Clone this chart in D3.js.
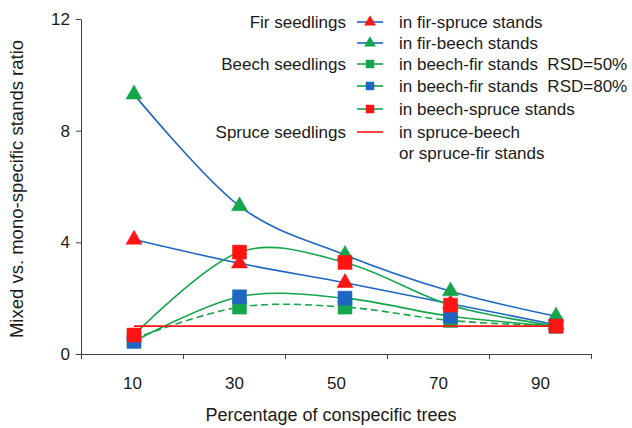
<!DOCTYPE html>
<html>
<head>
<meta charset="utf-8">
<script src="https://cdn.jsdelivr.net/npm/d3@7"></script>
<style>
  body { margin: 0; background: #fff; }
  text { font-family: "Liberation Sans", Arial, sans-serif; fill: #1a1a1a; }
</style>
</head>
<body>
<div id="chart"></div>
<script>
const pct = [10, 30, 50, 70, 90];
const pctLabels = ['10', '30', '50', '70', '90'];
const yTicks = [0, 4, 8, 12];

// fir seedlings
const firSpruce = [4.1, 3.25, 2.55, 1.8, 1.05];
const firBeech = [9.3, 5.3, 3.55, 2.25, 1.35];
// beech seedlings
const beechFir50 = [0.55, 1.68, 1.68, 1.2, 1.0];
const beechFir80 = [0.45, 2.05, 2.0, 1.35, 1.0];
const beechSpruce = [0.68, 3.65, 3.28, 1.75, 1.0];
// spruce seedlings
const spruceAll = [1.0, 1.0, 1.0, 1.0, 1.0];

const BLUE = '#1f66c2', GREEN = '#15a64b', RED = '#ff1414';

const series = [
  {vals: firSpruce, line: BLUE, mark: RED, shape: 'tri', dash: null},
  {vals: firBeech, line: BLUE, mark: GREEN, shape: 'tri', dash: null},
  {vals: beechFir50, line: GREEN, mark: GREEN, shape: 'sq', dash: '7,4'},
  {vals: beechFir80, line: GREEN, mark: BLUE, shape: 'sq', dash: null},
  {vals: beechSpruce, line: GREEN, mark: RED, shape: 'sq', dash: null},
  {vals: spruceAll, line: RED, mark: null, shape: null, dash: null}
];

const legendRows = [
  {group: 'Fir seedlings', text: 'in fir-spruce stands', s: 0},
  {group: '', text: 'in fir-beech stands', s: 1},
  {group: 'Beech seedlings', text: 'in beech-fir stands  RSD=50%', s: 2},
  {group: '', text: 'in beech-fir stands  RSD=80%', s: 3},
  {group: '', text: 'in beech-spruce stands', s: 4},
  {group: 'Spruce seedlings', text: 'in spruce-beech', s: 5},
  {group: '', text: 'or spruce-fir stands', s: -1}
];

const W = 632, H = 428;
const svg = d3.select('#chart').append('svg')
    .attr('width', W).attr('height', H);

const y = d3.scaleLinear().domain([0, 12]).range([354, 19]);
// axis scale: category bands 0-20, 20-40, ...
const xAxisScale = d3.scaleLinear().domain([0, 100]).range([81, 591]);
// the plotted marks sit on a slightly wider grid than the axis labels
const x = d3.scaleLinear().domain([0, 100]).range([81.25, 608.75]);

// y axis
const yAxis = svg.append('g')
    .attr('transform', 'translate(81,0)')
    .call(d3.axisLeft(y).tickValues(yTicks).tickSize(5).tickSizeOuter(0).tickPadding(6));
yAxis.selectAll('text').style('font-size', '17px');

// x axis, boundary ticks
const xAxis = svg.append('g')
    .attr('transform', 'translate(0,354)')
    .call(d3.axisBottom(xAxisScale).tickValues([0, 20, 40, 60, 80, 100])
        .tickFormat('').tickSize(5).tickSizeOuter(0));
// x labels at category centres
const xLab = svg.append('g')
    .attr('transform', 'translate(0,354)')
    .call(d3.axisBottom(xAxisScale).tickValues(pct)
        .tickFormat((d, i) => pctLabels[i]).tickSize(0).tickPadding(23));
xLab.select('.domain').remove();
xLab.selectAll('text').style('font-size', '17px');

svg.selectAll('.domain, .tick line').attr('stroke', '#404040').attr('stroke-width', 1);

// titles
svg.append('text')
    .attr('x', 331).attr('y', 421)
    .attr('text-anchor', 'middle')
    .style('font-size', '18px')
    .text('Percentage of conspecific trees');

svg.append('text')
    .attr('transform', 'translate(23,189) rotate(-90)')
    .attr('text-anchor', 'middle')
    .style('font-size', '18.5px')
    .text('Mixed vs. mono-specific stands ratio');

const line = d3.line()
    .x((d, i) => x(pct[i]))
    .y(d => y(d))
    .curve(d3.curveCardinal);

const tri = d3.symbol().type(d3.symbolTriangle);
const sq = d3.symbol().type(d3.symbolSquare);

series.forEach(s => {
  const g = svg.append('g');
  g.append('path')
      .attr('d', line(s.vals))
      .attr('fill', 'none')
      .attr('stroke', s.line)
      .attr('stroke-width', 1.6)
      .attr('stroke-dasharray', s.dash);
  if (s.shape) {
    g.selectAll('path.m')
        .data(s.vals)
        .enter()
        .append('path')
        .attr('class', 'm')
        .attr('d', s.shape === 'tri' ? tri.size(112)() : sq.size(196)())
        .attr('transform', (d, i) => 'translate(' + x(pct[i]) + ',' + y(d) + ')')
        .attr('fill', s.mark)
        .attr('stroke', s.mark)
        .attr('stroke-width', 0.5);
  }
});

// legend
const lg = svg.append('g');
const rowY = [22, 43, 64, 86, 109, 132, 153];
legendRows.forEach((r, i) => {
  const yy = rowY[i];
  if (r.group) {
    lg.append('text')
        .attr('x', 346).attr('y', yy + 6)
        .attr('text-anchor', 'end')
        .style('font-size', '17px')
        .text(r.group);
  }
  lg.append('text')
      .attr('x', 399).attr('y', yy + 6)
      .style('font-size', '17px')
      .style('white-space', 'pre')
      .text(r.text);
  if (r.s >= 0) {
    const s = series[r.s];
    lg.append('line')
        .attr('x1', 357).attr('x2', 383)
        .attr('y1', yy).attr('y2', yy)
        .attr('stroke', s.line).attr('stroke-width', 1.6);
    if (s.shape) {
      lg.append('path')
          .attr('d', s.shape === 'tri' ? tri.size(60)() : sq.size(72)())
          .attr('transform', 'translate(370,' + yy + ')')
          .attr('fill', s.mark);
    }
  }
});
</script>
</body>
</html>
